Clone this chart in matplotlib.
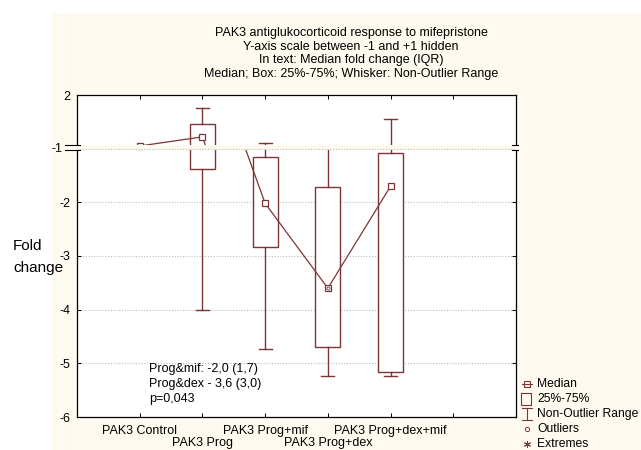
import numpy as np
import matplotlib
matplotlib.use('Agg')
from matplotlib import pyplot as plt
from matplotlib.lines import Line2D
from matplotlib.patches import Rectangle

plt.rcParams['font.family'] = ['Liberation Sans', 'DejaVu Sans']

categories = ["PAK3 Control", "PAK3 Prog", "PAK3 Prog+mif", "PAK3 Prog+dex", "PAK3 Prog+dex+mif"]
medians = [1.05, 1.22, -2.02, -3.60, -1.70]
box_hi = [np.nan, 1.46, -1.15, -1.72, -1.08]
box_lo = [np.nan, -1.375, -2.83, -4.69, -5.16]
whisk_hi = [np.nan, 1.76, 1.11, 0.5, 1.56]
whisk_lo = [np.nan, -4.0, -4.73, -5.23, -5.23]
outlier_x = [3]
outlier_y = [-3.60]
y_ticks = [2, -1, -2, -3, -4, -5, -6]
notes = ["Prog&mif: -2,0 (1,7)", "Prog&dex - 3,6 (3,0)", "p=0,043"]
title_lines = ["PAK3 antiglukocorticoid response to mifepristone",
               "Y-axis scale between -1 and +1 hidden",
               "In text: Median fold change (IQR)",
               "Median; Box: 25%-75%; Whisker: Non-Outlier Range"]
legend_labels = ["Median", "25%-75%", "Non-Outlier Range", "Outliers", "Extremes"]

W, H = 641, 450
CREAM = '#fffaf0'
C = '#7b3535'
FS = 9
GAP_LO, GAP_HI = -1.0, 1.0


def disp(v):
    # hidden range (-1, 1) squeezed out of the axis
    v = np.asarray(v, float)
    return np.where(v >= GAP_HI, v - (GAP_HI - GAP_LO), v)


def visible_parts(x0, y0, x1, y1):
    parts = []
    for lo, hi in [(-np.inf, GAP_LO), (GAP_HI, np.inf)]:
        if y0 == y1:
            if lo <= y0 <= hi:
                parts.append(([x0, x1], disp([y0, y1])))
            continue
        ta = (lo - y0) / (y1 - y0)
        tb = (hi - y0) / (y1 - y0)
        t0 = max(0.0, min(ta, tb))
        t1 = min(1.0, max(ta, tb))
        if t1 > t0:
            xs = [x0 + t0 * (x1 - x0), x0 + t1 * (x1 - x0)]
            ys = [y0 + t0 * (y1 - y0), y0 + t1 * (y1 - y0)]
            parts.append((xs, disp(ys)))
    return parts


def px(x, y):
    return x / W, 1 - y / H


fig = plt.figure(figsize=(W / 100, H / 100), dpi=100, facecolor='white')
fig.patches.append(Rectangle(px(52, H), 1 - 52 / W, 1 - 13 / H, transform=fig.transFigure,
                             facecolor=CREAM, edgecolor='none', zorder=-10))

l, t = px(77, 95)
r, b = px(516, 417)
ax = fig.add_axes([l, b, r - l, t - b])
ax.set_zorder(2)
ax.set_facecolor('white')
ax.set_xlim(-1, 6)
ax.set_ylim(-6, 0)

for v in y_ticks[1:-1]:
    ax.axhline(disp(v), color='#bdbdbd', lw=0.8, ls=(0, (1, 1.5)), zorder=5 if v == -1 else 1)

bw, cw = 0.4, 0.21
xs = np.arange(len(categories))
for i in xs:
    if np.isnan(box_hi[i]):
        continue
    lo_d, hi_d = disp(box_lo[i]), disp(box_hi[i])
    ax.add_patch(Rectangle((i - bw / 2, lo_d), bw, hi_d - lo_d, facecolor='white',
                           edgecolor=C, lw=1.0, zorder=2))
    for a, w in [(box_hi[i], whisk_hi[i]), (box_lo[i], whisk_lo[i])]:
        for px_, py_ in visible_parts(i, a, i, w):
            ax.plot(px_, py_, color=C, lw=1.0, zorder=2)
        if not (GAP_LO < w < GAP_HI):
            ax.plot([i - cw / 2, i + cw / 2], [disp(w)] * 2, color=C, lw=1.0, zorder=2)

for i in range(len(xs) - 1):
    for px_, py_ in visible_parts(xs[i], medians[i], xs[i + 1], medians[i + 1]):
        ax.plot(px_, py_, color=C, lw=0.9, zorder=3)
ax.plot(xs, disp(medians), ls='none', marker='s', ms=4.5, mfc='white', mec=C, mew=0.9, zorder=3)
ax.plot(outlier_x, disp(outlier_y), ls='none', marker='o', ms=2.2, mfc='white', mec=C, mew=0.6, zorder=3)

# gap band and axis break marks
ax.add_patch(Rectangle((-0.006, -1.03), 1.012, 0.1, transform=ax.get_yaxis_transform(),
                       facecolor=CREAM, edgecolor='none', zorder=4, clip_on=False))
for yy in (-1.03, -0.93):
    ax.plot([-12 / 439, 3 / 439], [yy, yy], transform=ax.get_yaxis_transform(), color='black',
            lw=0.8, clip_on=False, zorder=6)
    ax.plot([1 - 4 / 439, 1 + 2 / 439], [yy, yy], transform=ax.get_yaxis_transform(), color='black',
            lw=0.8, clip_on=False, zorder=6)

ax.set_yticks(disp(y_ticks))
ax.set_yticklabels(['' if v == -1 else str(v) for v in y_ticks])
ax.text(-14 / 439, -1, '-1', transform=ax.get_yaxis_transform(), ha='right', va='center', fontsize=FS)
ax.set_xticks(np.arange(6))
ax.set_xticklabels([c if k % 2 == 0 else '' for k, c in enumerate(categories)] + [''])
# second row of staggered labels
for k, c in enumerate(categories):
    if k % 2 == 1:
        ax.text(k, -26 / 322, c, transform=ax.get_xaxis_transform(), ha='center', va='center',
                fontsize=FS)
ax.tick_params(axis='both', direction='in', length=3, width=0.7, labelsize=FS,
               top=True, right=True)
ax.tick_params(axis='y', pad=5)
ax.tick_params(axis='x', pad=6)
for s in ax.spines.values():
    s.set_linewidth(0.9)

for k, n in enumerate(notes):
    fig.text(*px(149, 369 + 15 * k), n, fontsize=FS, va='center', ha='left')

for k, tl in enumerate(title_lines):
    fig.text(*px(351, 33 + 13.5 * k), tl, fontsize=FS, ha='center', va='center')

fig.text(*px(13, 246), 'Fold', fontsize=11, va='center')
fig.text(*px(13, 268), 'change', fontsize=11, va='center')

# legend drawn by hand
ly = [384, 399, 414, 429, 444]
lx = 527


def fl(xa, ya, **kw):
    xa = [x / W for x in xa]
    ya = [1 - y / H for y in ya]
    fig.add_artist(Line2D(xa, ya, transform=fig.transFigure, color=C, **kw))


fl([522, 532], [ly[0]] * 2, lw=0.8)
fl([lx], [ly[0]], ls='none', marker='s', ms=3.8, mfc='none', mec=C, mew=0.8)
fl([521, 531, 531, 521, 521], [ly[1] - 6, ly[1] - 6, ly[1] + 6, ly[1] + 6, ly[1] - 6], lw=0.8)
fl([lx, lx], [ly[2] - 6, ly[2] + 6], lw=0.8)
fl([522, 532], [ly[2] - 6] * 2, lw=0.8)
fl([522, 532], [ly[2] + 6] * 2, lw=0.8)
fl([lx], [ly[3]], ls='none', marker='o', ms=3, mfc='none', mec=C, mew=0.7)
fl([lx], [ly[4]], ls='none', marker=(6, 2, 0), ms=5, mec=C, mew=0.7)
for yy, lab in zip(ly, legend_labels):
    fig.text(*px(537, yy), lab, fontsize=8.7, va='center', ha='left')

fig.savefig('out.png', dpi=100, facecolor='white')
